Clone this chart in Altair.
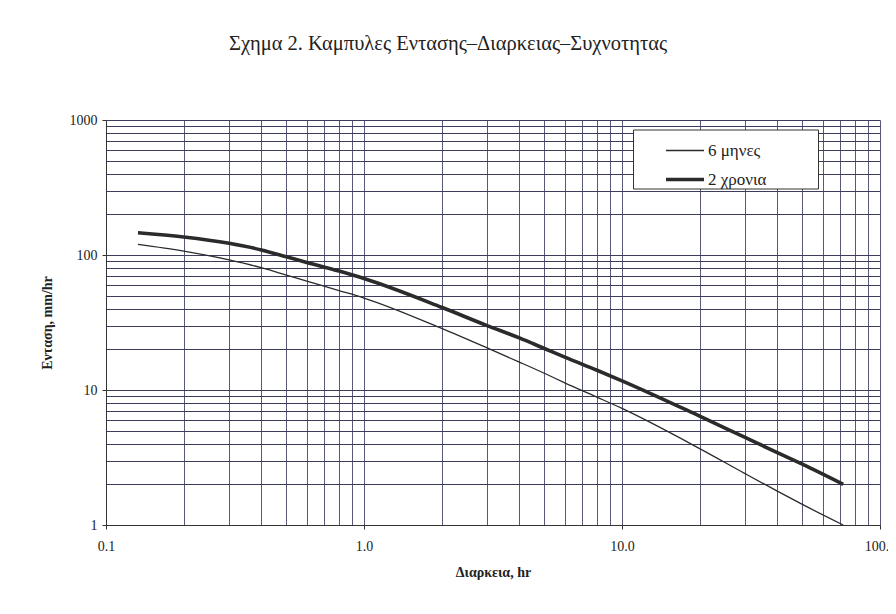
import altair as alt
import pandas as pd

# Duration (hr)
durations = [0.133, 0.2, 0.3, 0.4, 0.5, 0.6, 0.8, 1, 2, 3, 4, 5, 6, 8, 10, 20, 30, 40, 50, 72]
# Intensity (mm/hr)
six_months = [120, 107, 92, 80.5, 71, 64, 54.5, 48, 28.6, 20.5, 16.1, 13.3, 11.3, 8.85, 7.3, 3.68, 2.4, 1.78, 1.42, 1.0]
two_years = [146, 136, 122, 109, 97, 88, 76, 67, 41, 30, 24.3, 20.3, 17.5, 14.0, 11.7, 6.4, 4.45, 3.44, 2.82, 2.0]
series = ["6 μηνες", "2 χρονια"]

x_ticks = [0.1, 0.2, 0.3, 0.4, 0.5, 0.6, 0.7, 0.8, 0.9,
           1, 2, 3, 4, 5, 6, 7, 8, 9,
           10, 20, 30, 40, 50, 60, 70, 80, 90, 100]
y_ticks = [1, 2, 3, 4, 5, 6, 7, 8, 9,
           10, 20, 30, 40, 50, 60, 70, 80, 90,
           100, 200, 300, 400, 500, 600, 700, 800, 900, 1000]

rows = []
for d, v in zip(durations, six_months):
    rows.append({"d": d, "i": v, "s": series[0]})
for d, v in zip(durations, two_years):
    rows.append({"d": d, "i": v, "s": series[1]})
df = pd.DataFrame(rows)

SERIF = "'Liberation Serif', 'Times New Roman', 'DejaVu Serif', serif"
major = "abs(log(datum.value)/LN10 - round(log(datum.value)/LN10)) < 1e-6"

x_axis = alt.Axis(
    values=x_ticks,
    labelExpr=f"({major}) ? format(datum.value, '.1f') : ''",
    labelOverlap=False,
    labelFlush=False,
    grid=True,
    gridColor="#45456a",
    gridWidth=0.9,
    tickSize=4,
    tickColor={"condition": {"test": major, "value": "#333333"}, "value": "transparent"},
    domainColor="#333333",
    labelPadding=10,
    labelFont=SERIF,
    labelFontSize=14,
    labelColor="#222222",
    title="Διαρκεια, hr",
    titleFont=SERIF,
    titleFontSize=14,
    titleFontWeight="bold",
    titleColor="#222222",
    titlePadding=12,
)

y_axis = alt.Axis(
    values=y_ticks,
    labelExpr=f"({major}) ? format(datum.value, 'd') : ''",
    labelOverlap=False,
    labelFlush=False,
    grid=True,
    gridColor="#3c3c5c",
    gridWidth=1.1,
    tickSize=4,
    tickColor={"condition": {"test": major, "value": "#333333"}, "value": "transparent"},
    domainColor="#333333",
    labelPadding=5,
    labelFont=SERIF,
    labelFontSize=14,
    labelColor="#222222",
    title="Ενταση, mm/hr",
    titleFont=SERIF,
    titleFontSize=14,
    titleFontWeight="bold",
    titleColor="#222222",
    titlePadding=15,
)

chart = (
    alt.Chart(df)
    .mark_line(stroke="#2b2b2b", interpolate="monotone")
    .encode(
        x=alt.X("d:Q", scale=alt.Scale(type="log", domain=[0.1, 100], nice=False), axis=x_axis),
        y=alt.Y("i:Q", scale=alt.Scale(type="log", domain=[1, 1000], nice=False), axis=y_axis),
        strokeWidth=alt.StrokeWidth(
            "s:N",
            scale=alt.Scale(domain=series, range=[1.3, 3.6]),
            sort=series,
            legend=alt.Legend(
                title=None,
                orient="none",
                legendX=527,
                legendY=9.5,
                symbolType="stroke",
                symbolSize=1444,
                symbolStrokeColor="#2b2b2b",
                symbolOffset=30,
                labelFont=SERIF,
                labelFontSize=17,
                labelColor="#222222",
                labelOffset=2,
                labelLimit=400,
                labelExpr="datum.label + '\u2800\u2800\u2800\u2800'",
                rowPadding=-11,
                padding=1,
                strokeColor="#333333",
                fillColor="white",
            ),
        ),
        order=alt.Order("d:Q"),
    )
    .properties(
        width=774,
        height=405,
        title=alt.TitleParams(
            "Σχημα 2. Καμπυλες Εντασης–Διαρκειας–Συχνοτητας",
            font=SERIF,
            fontSize=20.5,
            fontWeight="normal",
            color="#222222",
            offset=59,
            dx=-45,
        ),
        autosize=alt.AutoSizeParams(type="none"),
        padding={"left": 98, "top": 112, "right": 8, "bottom": 78},
        background="white",
    )
    .configure_view(stroke=None)
)

chart.save("out.html", embed_options={"renderer": "svg", "actions": False})
